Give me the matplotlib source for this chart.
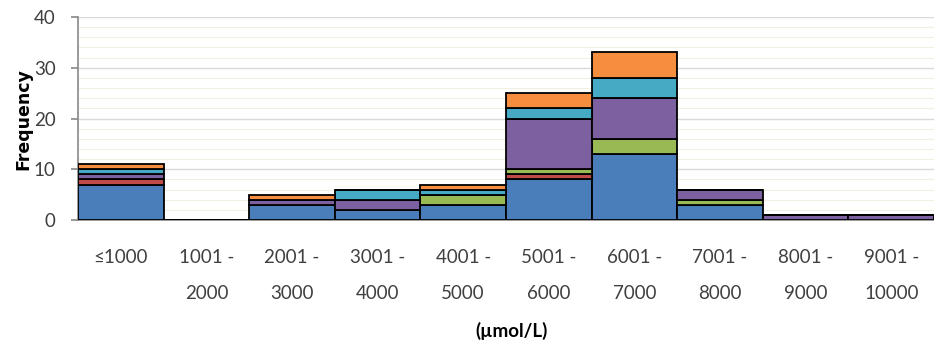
import matplotlib
matplotlib.use("Agg")
import matplotlib.pyplot as plt
import numpy as np

# Concentration bins (µmol/L)
categories = ["≤1000", "1001 -\n2000", "2001 -\n3000", "3001 -\n4000", "4001 -\n5000",
              "5001 -\n6000", "6001 -\n7000", "7001 -\n8000", "8001 -\n9000", "9001 -\n10000"]

# Stacked frequency counts per bin, bottom to top
blue   = [7, 0, 3, 2, 3, 8, 13, 3, 0, 0]
red    = [1, 0, 0, 0, 0, 1, 0, 0, 0, 0]
green  = [0, 0, 0, 0, 2, 1, 3, 1, 0, 0]
purple = [1, 0, 1, 2, 0, 10, 8, 2, 1, 1]
teal   = [1, 0, 0, 2, 1, 2, 4, 0, 0, 0]
orange = [1, 0, 1, 0, 1, 3, 5, 0, 0, 0]

y_ticks = [0, 10, 20, 30, 40]

layers = [blue, red, green, purple, teal, orange]
colors = ["#4A7EBB", "#BE4B48", "#98B954", "#7D60A0", "#46AAC5", "#F58F3F"]

fig = plt.figure(figsize=(9.34, 3.45), dpi=100)
ax = fig.add_axes([0.0835, 0.362, 0.9165, 0.589])

font = ["Lato", "DejaVu Sans"]
text_color = "#404040"

x = np.arange(len(categories))
bottom = np.zeros(len(categories))
for vals, col in zip(layers, colors):
    vals = np.array(vals, dtype=float)
    ax.bar(x, vals, width=1.0, bottom=bottom, color=col,
           edgecolor="black", linewidth=1.3, zorder=3)
    bottom += vals

ax.set_xlim(-0.5, len(categories) - 0.5)
ax.set_ylim(0, 40)
ax.set_yticks(y_ticks)
ax.set_yticks(np.arange(0, 41, 2), minor=True)
ax.grid(axis="y", which="major", color="#D9D9D9", linewidth=1.0, zorder=0)
ax.grid(axis="y", which="minor", color="#EFEFE2", linewidth=0.8, zorder=0)

ax.set_xticks(x)
ax.set_xticklabels(categories, fontsize=13.5, family=font, color=text_color,
                   linespacing=2.35, va="top")
ax.tick_params(axis="x", length=0, pad=21)
ax.tick_params(axis="y", which="major", length=5, width=1.2, color="#888888",
               labelsize=13.5, labelcolor=text_color, pad=11)
ax.tick_params(axis="y", which="minor", length=0)
for lbl in ax.get_yticklabels():
    lbl.set_family(font)

for side in ["top", "right"]:
    ax.spines[side].set_visible(False)
ax.spines["left"].set_color("#888888")
ax.spines["left"].set_linewidth(1.2)
ax.spines["bottom"].set_color("#888888")
ax.spines["bottom"].set_linewidth(1.2)

fig.text(0.025, 0.655, "Frequency", fontsize=12.5, fontweight="bold",
         family="DejaVu Sans", color="black", rotation=90,
         ha="center", va="center")
fig.text(0.548, 0.042, "(µmol/L)", fontsize=13.5, fontweight="bold", family=font,
         color="black", ha="center", va="center")

fig.savefig("out.png", dpi=100, facecolor="white")
